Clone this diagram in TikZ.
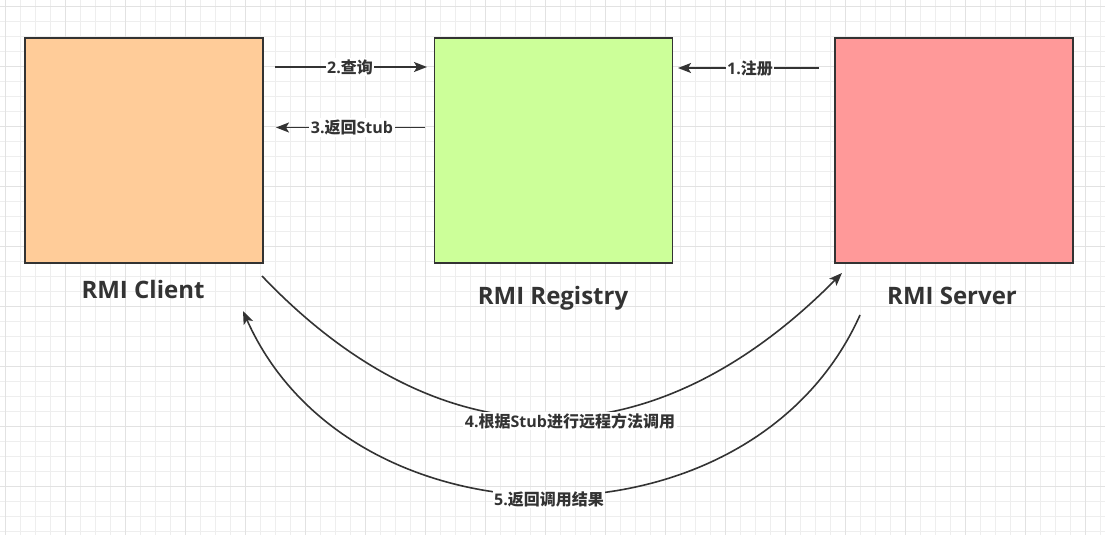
\documentclass[tikz,border=0pt]{standalone}
\usepackage{fontspec}
\setmainfont{Open Sans}
\newfontfamily\cjk{Noto Sans CJK SC}
\usetikzlibrary{arrows.meta}
\definecolor{ink}{HTML}{333333}
\definecolor{clientfill}{HTML}{FFCC99}
\definecolor{registryfill}{HTML}{CCFF99}
\definecolor{serverfill}{HTML}{FF9999}
\definecolor{gridminor}{HTML}{EEEEEE}
\definecolor{gridmajor}{HTML}{E2E2E2}
\begin{document}
\begin{tikzpicture}[x=1pt,y=-1pt,
  box/.style={draw=ink,line width=1.8pt,minimum width=238pt,minimum height=225pt,inner sep=0pt,anchor=north west},
  title/.style={text=ink,font=\fontsize{24}{28}\selectfont\bfseries,anchor=base,inner sep=0pt},
  lbl/.style={text=ink,font=\fontsize{16}{19}\selectfont\bfseries,fill=white,inner sep=1.5pt},
  arr/.style={draw=ink,line width=1.6pt,-{Stealth[length=13pt,width=10pt,inset=3pt]}},
  gminor/.style={draw=gridminor,line width=0.8pt},
  gmajor/.style={draw=gridmajor,line width=0.8pt}]
\useasboundingbox[fill=white] (0,0) rectangle (1105,535);
% grid
\foreach \i in {0,...,73} {\draw[gminor] (5+15*\i,0) -- (5+15*\i,535);}
\foreach \i in {0,...,35} {\draw[gminor] (0,6.7+15*\i) -- (1105,6.7+15*\i);}
\foreach \i in {0,...,18} {\draw[gmajor] (5+60*\i,0) -- (5+60*\i,535);}
\foreach \i in {0,...,8} {\draw[gmajor] (0,6.7+60*\i) -- (1105,6.7+60*\i);}
% boxes
\node[box,fill=clientfill] (client) at (24,37) {};
\node[box,fill=registryfill] (registry) at (433.5,37) {};
\node[box,fill=serverfill] (server) at (834,37) {};
% titles
\node[title] (tclient) at (143,298.5) {RMI Client};
\node[title] (tregistry) at (553,304) {RMI Registry};
\node[title] (tserver) at (952,304) {RMI Server};
% straight connectors
\coordinate (a2s) at (275,67);
\coordinate (a2e) at (427,67);
\coordinate (a3s) at (425,127.5);
\coordinate (a3e) at (276,127.5);
\coordinate (a1s) at (819,68);
\coordinate (a1e) at (678,68);
\draw[arr] (a2s) -- (a2e);
\draw[arr] (a3s) -- (a3e);
\draw[arr] (a1s) -- (a1e);
\node[lbl] (l2) at (350,67) {2.{\cjk 查询}};
\node[lbl] (l3) at (352,127.5) {3.{\cjk 返回}Stub};
\node[lbl] (l1) at (750,68) {1.{\cjk 注册}};
% curved connectors
\coordinate (c4s) at (262,276);
\coordinate (c4e) at (842,273);
\coordinate (c5s) at (860,315);
\coordinate (c5e) at (243,311);
\draw[arr] (c4s) .. controls (445,468) and (655,462) .. (c4e);
\draw[arr] (c5s) .. controls (752,557) and (351,554) .. (c5e);
\node[lbl] (l4) at (570,421) {4.{\cjk 根据}Stub{\cjk 进行远程方法调用}};
\node[lbl] (l5) at (549,499) {5.{\cjk 返回调用结果}};
\end{tikzpicture}
\end{document}
